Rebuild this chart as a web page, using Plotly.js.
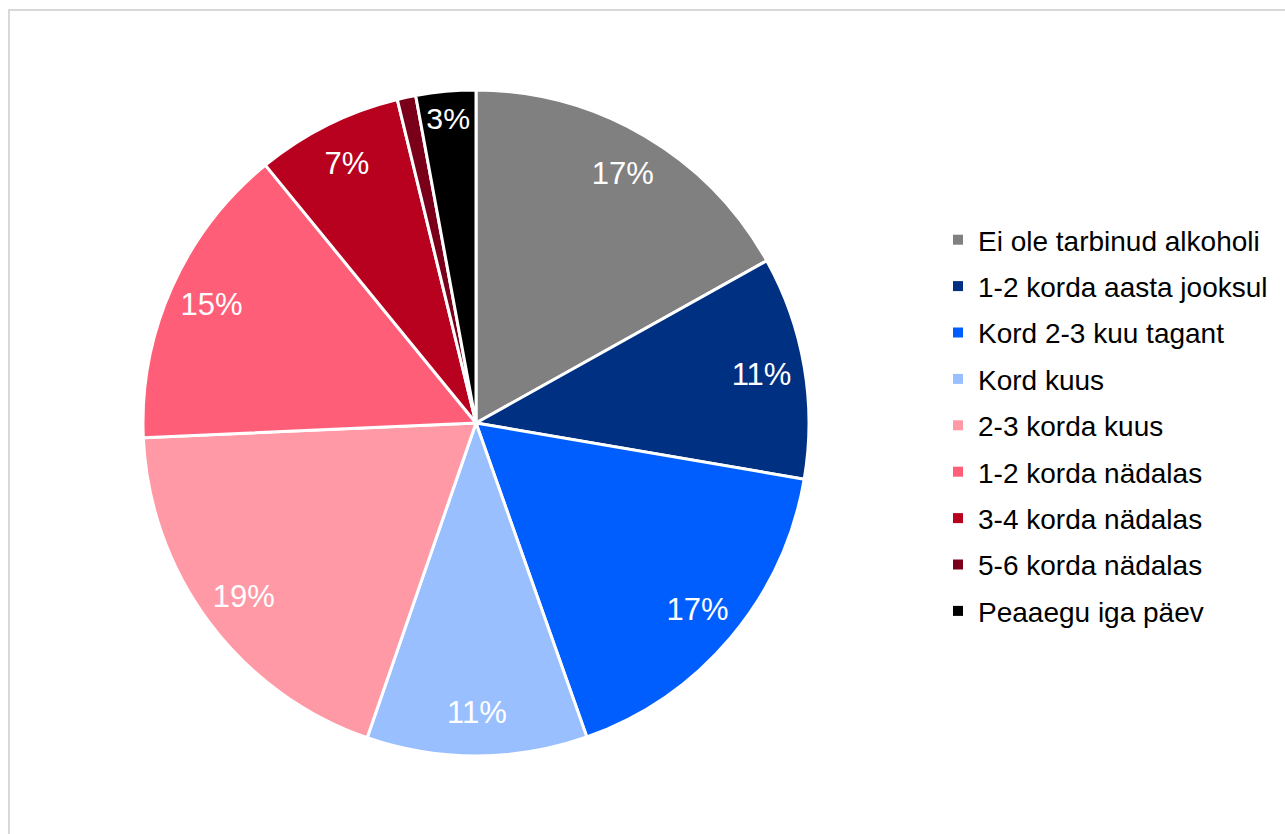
<!DOCTYPE html>
<html>
<head>
<meta charset="utf-8">
<script src="https://cdn.plot.ly/plotly-3.0.1.min.js"></script>
<style>
  html, body { margin: 0; padding: 0; background: #fff; overflow: hidden; }
  #frame { position: absolute; left: 8px; top: 9px; width: 1400px; height: 900px; border-left: 2px solid #d9d9d9; border-top: 2px solid #d9d9d9; }
  #chart { position: absolute; left: 0; top: 0; width: 1285px; height: 834px; }
</style>
</head>
<body>
<div id="frame"></div>
<div id="chart"></div>
<script>
const categories = [
  "Ei ole tarbinud alkoholi",
  "1-2 korda aasta jooksul",
  "Kord 2-3 kuu tagant",
  "Kord kuus",
  "2-3 korda kuus",
  "1-2 korda nädalas",
  "3-4 korda nädalas",
  "5-6 korda nädalas",
  "Peaaegu iga päev"
];
const shares = [16.9, 10.8, 16.9, 10.7, 19.0, 14.8, 7.1, 0.9, 2.9];
const labelsShown = ["17%", "11%", "17%", "11%", "19%", "15%", "7%", "", "3%"];
const colors = ["#808080", "#003082", "#005eff", "#99bfff", "#ff99a6", "#ff5e78", "#b8001f", "#7a0019", "#000000"];

const pieDomain = { x: [143/1285, 809/1285], y: [78/834, 744/834] };

// Main pie: the coloured slices
const pie = {
  type: "pie",
  labels: categories,
  values: shares,
  textinfo: "none",
  sort: false,
  direction: "clockwise",
  rotation: 0,
  marker: { colors: colors, line: { color: "#ffffff", width: 3 } },
  showlegend: false,
  hoverinfo: "label+percent",
  domain: pieDomain
};

// Transparent ring with the same data, used only to place the percentage labels near the rim
const labelRing = {
  type: "pie",
  labels: categories,
  values: shares,
  text: labelsShown,
  textinfo: "text",
  texttemplate: "%{text}",
  textposition: "inside",
  insidetextorientation: "horizontal",
  sort: false,
  direction: "clockwise",
  rotation: 0,
  hole: 0.74,
  marker: { colors: categories.map(() => "rgba(0,0,0,0)"), line: { width: 0 } },
  insidetextfont: { family: "Liberation Sans, Arial, sans-serif", size: 31, color: "#ffffff" },
  showlegend: false,
  hoverinfo: "skip",
  domain: pieDomain
};

const legendTraces = categories.map((c, i) => ({
  type: "scatter",
  mode: "markers",
  x: [null], y: [null],
  name: c,
  legendgroup: "g" + i,
  marker: { symbol: "square", size: 10, color: colors[i] },
  showlegend: true,
  hoverinfo: "skip"
}));

const layout = {
  width: 1285, height: 834,
  margin: { l: 0, r: 0, t: 0, b: 0 },
  paper_bgcolor: "rgba(0,0,0,0)",
  plot_bgcolor: "rgba(0,0,0,0)",
  showlegend: true,
  xaxis: { visible: false },
  yaxis: { visible: false },
  legend: {
    x: 938/1285, xanchor: "left",
    y: (834 - 215)/834, yanchor: "top",
    traceorder: "grouped",
    tracegroupgap: 7,
    itemwidth: 30,
    font: { family: "Liberation Sans, Arial, sans-serif", size: 28, color: "#000000" },
    bgcolor: "rgba(0,0,0,0)"
  }
};

Plotly.newPlot("chart", [pie, labelRing].concat(legendTraces), layout, { displayModeBar: false, staticPlot: true });
</script>
</body>
</html>
